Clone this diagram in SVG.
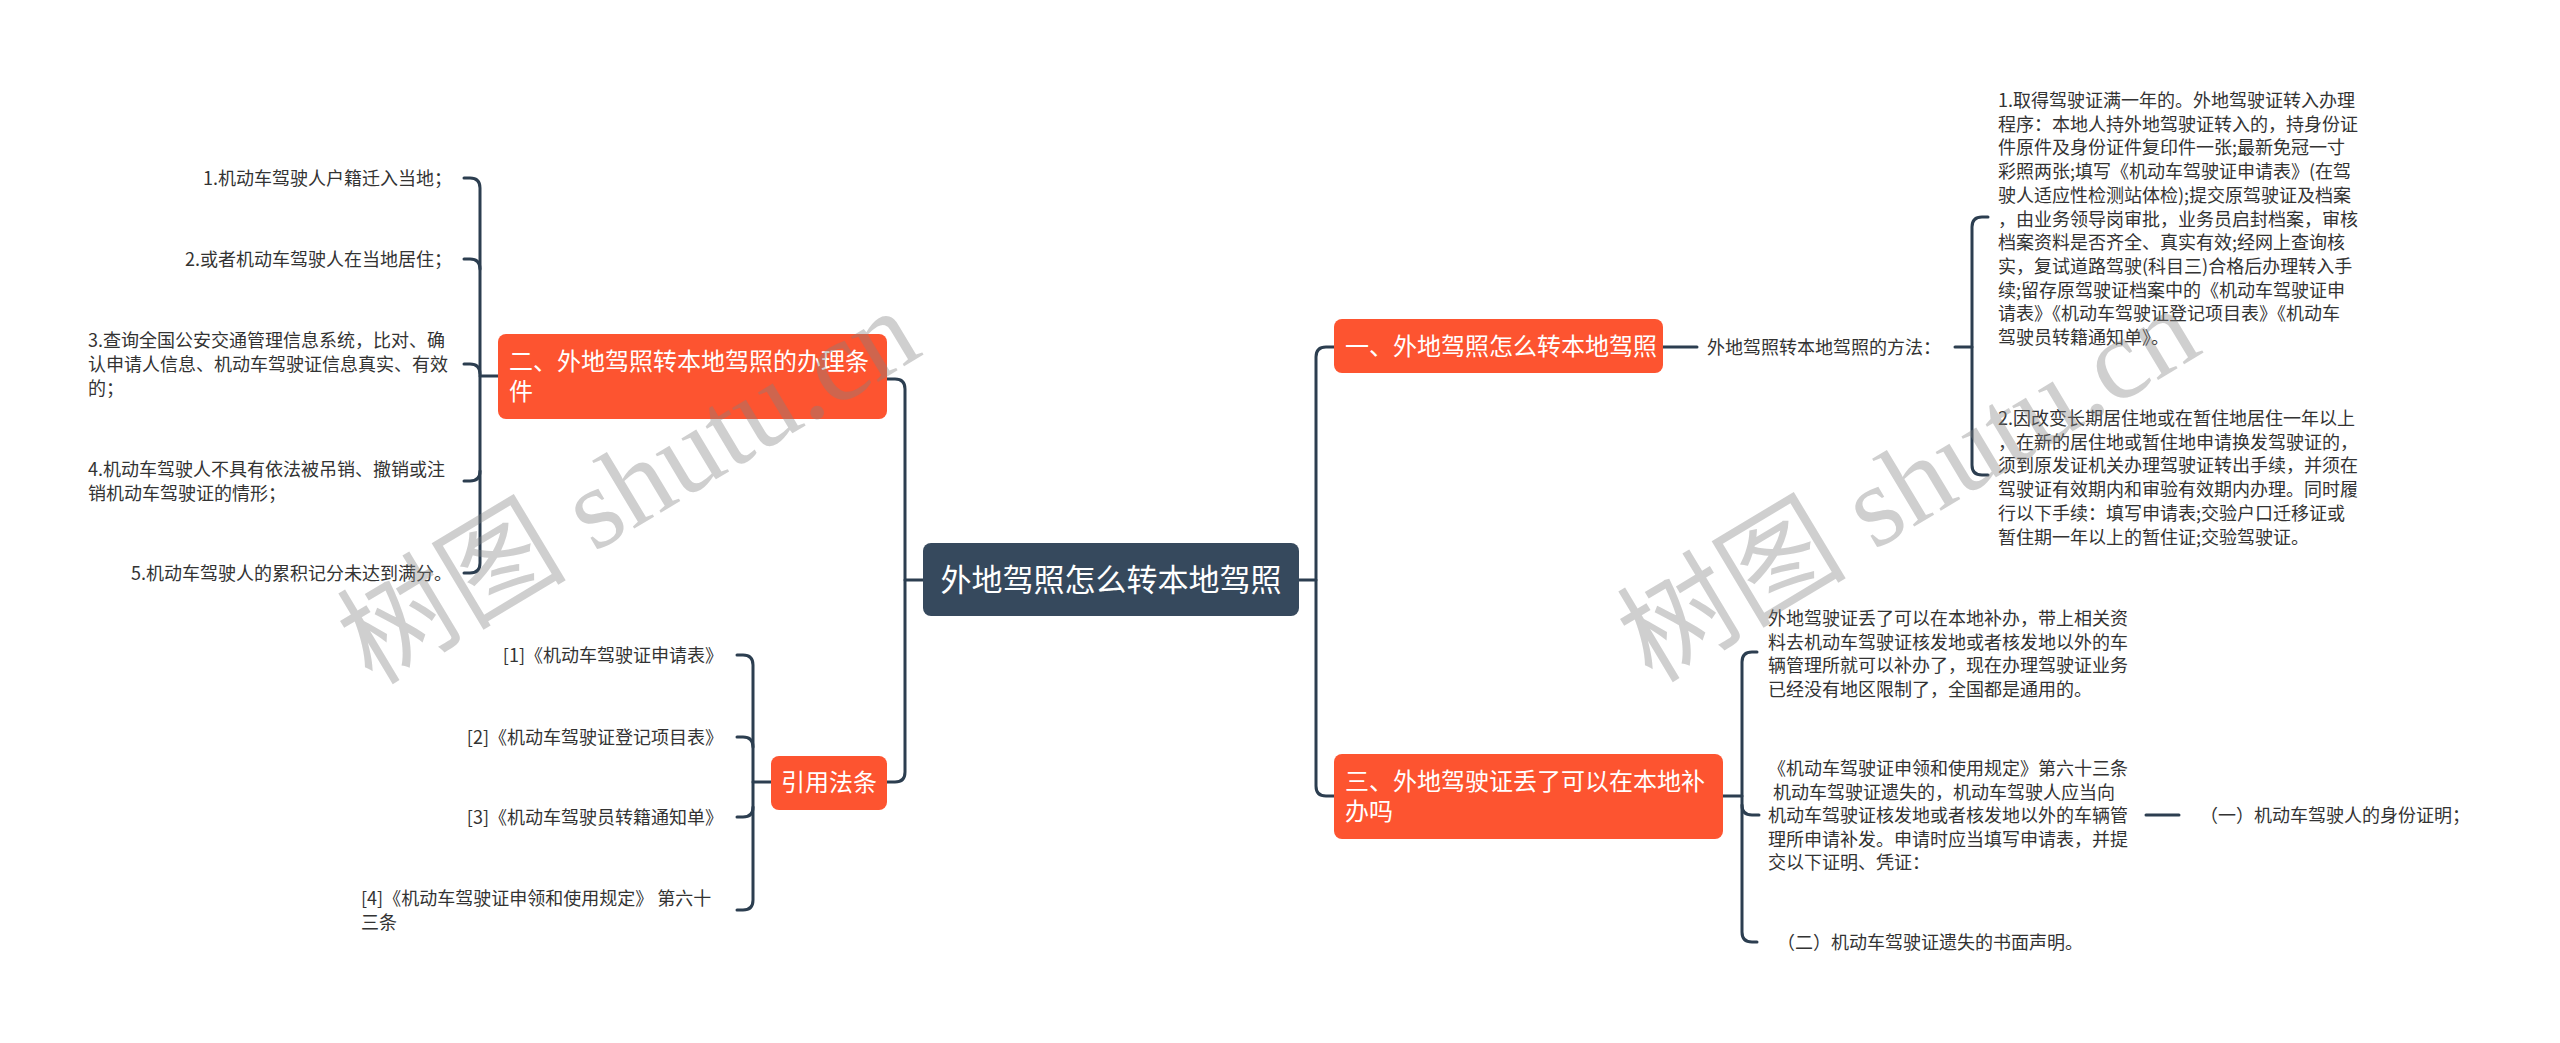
<svg xmlns="http://www.w3.org/2000/svg" width="2560" height="1043" viewBox="0 0 2560 1043">
<style>
.bg{fill:#ffffff}
.conn{fill:none;stroke:#2c3e50;stroke-width:3;stroke-linecap:round;stroke-linejoin:round}
.root{fill:#36495d}
.main{fill:#fd5430}
.tw{font-family:"Noto Sans CJK SC","Noto Sans",sans-serif;fill:#ffffff}
.t{font-family:"Noto Sans CJK SC","Noto Sans",sans-serif;font-size:18px;fill:#333333}
.wm{font-family:"Liberation Serif","Noto Sans CJK SC",serif;font-size:115px;fill:#808080;fill-opacity:0.38}
</style>
<rect class="bg" x="0" y="0" width="2560" height="1043"/>
<g id="connectors">
  <path class="conn" d="M923,580 H905"/>
  <path class="conn" d="M887,379 H895 Q905,379 905,389 V772 Q905,782 895,782 H887"/>
  <path class="conn" d="M1299,580 H1316"/>
  <path class="conn" d="M1334,347 H1326 Q1316,347 1316,357 V786 Q1316,796 1326,796 H1334"/>
  <path class="conn" d="M498,376 H480"/>
  <path class="conn" d="M464,178 H470 Q480,178 480,188 V563 Q480,573 470,573 H464"/>
  <path class="conn" d="M464,259 H470 Q480,259 480,269"/>
  <path class="conn" d="M464,364 H470 Q480,364 480,374"/>
  <path class="conn" d="M464,481 H470 Q480,481 480,471"/>
  <path class="conn" d="M771,782 H753"/>
  <path class="conn" d="M737,655 H743 Q753,655 753,665 V900 Q753,910 743,910 H737"/>
  <path class="conn" d="M737,737 H743 Q753,737 753,747"/>
  <path class="conn" d="M737,817 H743 Q753,817 753,807"/>
  <path class="conn" d="M1663,347 H1697"/>
  <path class="conn" d="M1955,347 H1972"/>
  <path class="conn" d="M1988,217 H1982 Q1972,217 1972,227 V465 Q1972,475 1982,475 H1988"/>
  <path class="conn" d="M1723,796 H1742"/>
  <path class="conn" d="M1757,652 H1752 Q1742,652 1742,662 V932 Q1742,942 1752,942 H1757"/>
  <path class="conn" d="M1759,815 H1752 Q1742,815 1742,805"/>
  <path class="conn" d="M2146,815 H2179"/>
</g>
<g id="root">
  <rect class="root" x="923" y="543" width="376" height="73" rx="8"/>
  <text class="tw" x="1111" y="591" font-size="31" text-anchor="middle">外地驾照怎么转本地驾照</text>
</g>
<g id="n2">
  <rect class="main" x="498" y="334" width="389" height="85" rx="8"/>
  <text class="tw" font-size="24"><tspan x="509" y="370">二、外地驾照转本地驾照的办理条</tspan><tspan x="509" y="400">件</tspan></text>
</g>
<g id="n2c1"><text class="t" x="452" y="185" text-anchor="end">1.机动车驾驶人户籍迁入当地；</text></g>
<g id="n2c2"><text class="t" x="452" y="266" text-anchor="end">2.或者机动车驾驶人在当地居住；</text></g>
<g id="n2c3"><text class="t"><tspan x="88" y="347">3.查询全国公安交通管理信息系统，比对、确</tspan><tspan x="88" y="371">认申请人信息、机动车驾驶证信息真实、有效</tspan><tspan x="88" y="395">的；</tspan></text></g>
<g id="n2c4"><text class="t"><tspan x="88" y="476">4.机动车驾驶人不具有依法被吊销、撤销或注</tspan><tspan x="88" y="500">销机动车驾驶证的情形；</tspan></text></g>
<g id="n2c5"><text class="t" x="452" y="580" text-anchor="end">5.机动车驾驶人的累积记分未达到满分。</text></g>
<g id="nref">
  <rect class="main" x="771" y="756" width="116" height="54" rx="8"/>
  <text class="tw" x="829" y="791" font-size="24" text-anchor="middle">引用法条</text>
</g>
<g id="ref1"><text class="t" x="723" y="662" text-anchor="end">[1]《机动车驾驶证申请表》</text></g>
<g id="ref2"><text class="t" x="723" y="744" text-anchor="end">[2]《机动车驾驶证登记项目表》</text></g>
<g id="ref3"><text class="t" x="723" y="824" text-anchor="end">[3]《机动车驾驶员转籍通知单》</text></g>
<g id="ref4"><text class="t"><tspan x="361" y="905">[4]《机动车驾驶证申领和使用规定》 第六十</tspan><tspan x="361" y="929">三条</tspan></text></g>
<g id="n1">
  <rect class="main" x="1334" y="319" width="329" height="54" rx="8"/>
  <text class="tw" x="1345" y="355" font-size="24">一、外地驾照怎么转本地驾照</text>
</g>
<g id="n1c"><text class="t" x="1707" y="354">外地驾照转本地驾照的方法：</text></g>
<g id="n1c1"><text class="t">
<tspan x="1998" y="107">1.取得驾驶证满一年的。外地驾驶证转入办理</tspan>
<tspan x="1998" y="130.7">程序：本地人持外地驾驶证转入的，持身份证</tspan>
<tspan x="1998" y="154.4">件原件及身份证件复印件一张;最新免冠一寸</tspan>
<tspan x="1998" y="178.1">彩照两张;填写《机动车驾驶证申请表》(在驾</tspan>
<tspan x="1998" y="201.8">驶人适应性检测站体检);提交原驾驶证及档案</tspan>
<tspan x="1998" y="225.5">，由业务领导岗审批，业务员启封档案，审核</tspan>
<tspan x="1998" y="249.2">档案资料是否齐全、真实有效;经网上查询核</tspan>
<tspan x="1998" y="272.9">实，复试道路驾驶(科目三)合格后办理转入手</tspan>
<tspan x="1998" y="296.6">续;留存原驾驶证档案中的《机动车驾驶证申</tspan>
<tspan x="1998" y="320.3">请表》《机动车驾驶证登记项目表》《机动车</tspan>
<tspan x="1998" y="344">驾驶员转籍通知单》。</tspan>
</text></g>
<g id="n1c2"><text class="t">
<tspan x="1998" y="425">2.因改变长期居住地或在暂住地居住一年以上</tspan>
<tspan x="1998" y="448.7">，在新的居住地或暂住地申请换发驾驶证的，</tspan>
<tspan x="1998" y="472.4">须到原发证机关办理驾驶证转出手续，并须在</tspan>
<tspan x="1998" y="496.1">驾驶证有效期内和审验有效期内办理。同时履</tspan>
<tspan x="1998" y="519.8">行以下手续：填写申请表;交验户口迁移证或</tspan>
<tspan x="1998" y="543.5">暂住期一年以上的暂住证;交验驾驶证。</tspan>
</text></g>
<g id="n3">
  <rect class="main" x="1334" y="754" width="389" height="85" rx="8"/>
  <text class="tw" font-size="24"><tspan x="1345" y="790">三、外地驾驶证丢了可以在本地补</tspan><tspan x="1345" y="820">办吗</tspan></text>
</g>
<g id="n3c1"><text class="t">
<tspan x="1768" y="625">外地驾驶证丢了可以在本地补办，带上相关资</tspan>
<tspan x="1768" y="648.5">料去机动车驾驶证核发地或者核发地以外的车</tspan>
<tspan x="1768" y="672">辆管理所就可以补办了，现在办理驾驶证业务</tspan>
<tspan x="1768" y="695.5">已经没有地区限制了，全国都是通用的。</tspan>
</text></g>
<g id="n3c2"><text class="t">
<tspan x="1768" y="775">《机动车驾驶证申领和使用规定》第六十三条</tspan>
<tspan x="1773" y="798.5">机动车驾驶证遗失的，机动车驾驶人应当向</tspan>
<tspan x="1768" y="822">机动车驾驶证核发地或者核发地以外的车辆管</tspan>
<tspan x="1768" y="845.5">理所申请补发。申请时应当填写申请表，并提</tspan>
<tspan x="1768" y="869">交以下证明、凭证：</tspan>
</text></g>
<g id="n3c2a"><text class="t" x="2200" y="822">（一）机动车驾驶人的身份证明；</text></g>
<g id="n3c3"><text class="t" x="1777" y="949">（二）机动车驾驶证遗失的书面声明。</text></g>
<g id="watermark">
  <text class="wm" x="372" y="686" transform="rotate(-31 372 686)">树图 shutu.cn</text>
  <text class="wm" x="1652" y="684" transform="rotate(-31 1652 684)">树图 shutu.cn</text>
</g>
</svg>
